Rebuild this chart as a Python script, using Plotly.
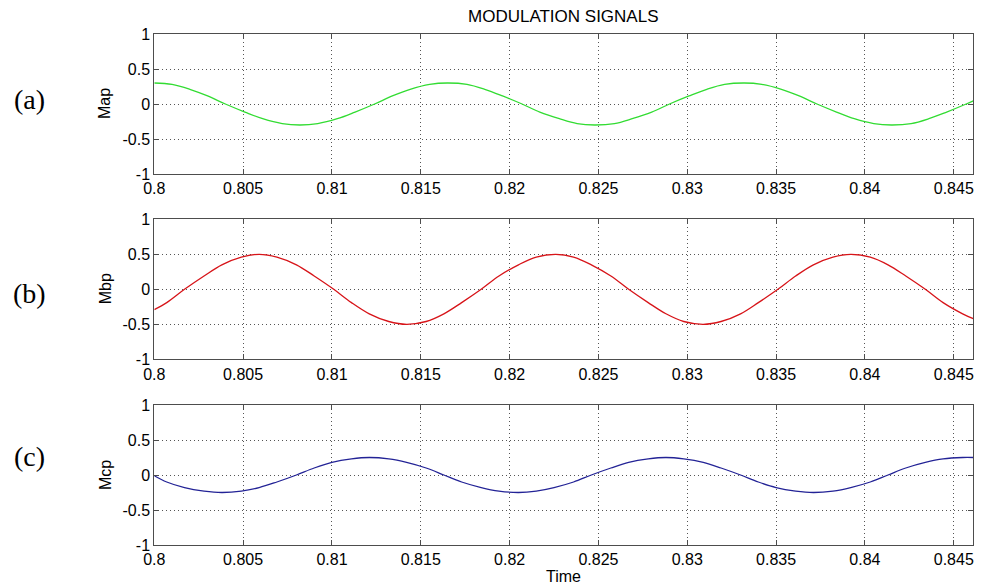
import plotly.graph_objects as go

# ---------------- data ----------------
t_a = [0.8000, 0.8010, 0.8020, 0.8030, 0.8040, 0.8051, 0.8061, 0.8072, 0.8082,
       0.8092, 0.8103, 0.8113, 0.8124, 0.8134, 0.8144, 0.8155, 0.8165, 0.8176,
       0.8186, 0.8196, 0.8207, 0.8217, 0.8228, 0.8238, 0.8248, 0.8259, 0.8269,
       0.8280, 0.8290, 0.8301, 0.8311, 0.8321, 0.8332, 0.8342, 0.8353, 0.8363,
       0.8373, 0.8384, 0.8394, 0.8405, 0.8415, 0.8426, 0.8436, 0.8446, 0.8457,
       0.8461]
map_vals = [0.30, 0.28, 0.21, 0.115, 0.00, -0.115, -0.21, -0.28, -0.30,
            -0.28, -0.21, -0.115, 0.00, 0.115, 0.21, 0.28, 0.30, 0.28,
            0.21, 0.115, 0.00, -0.115, -0.21, -0.28, -0.30, -0.28, -0.21,
            -0.115, 0.00, 0.115, 0.21, 0.28, 0.30, 0.28, 0.21, 0.115,
            0.00, -0.115, -0.21, -0.28, -0.30, -0.28, -0.21, -0.115, 0.00,
            0.045]

t_b = [0.8000, 0.8007, 0.8017, 0.8028, 0.8038, 0.8049, 0.8059, 0.8069, 0.8080,
       0.8090, 0.8101, 0.8111, 0.8121, 0.8132, 0.8142, 0.8153, 0.8163, 0.8173,
       0.8184, 0.8194, 0.8205, 0.8215, 0.8226, 0.8236, 0.8246, 0.8257, 0.8267,
       0.8278, 0.8288, 0.8298, 0.8309, 0.8319, 0.8330, 0.8340, 0.8351, 0.8361,
       0.8371, 0.8382, 0.8392, 0.8403, 0.8413, 0.8423, 0.8434, 0.8444, 0.8455,
       0.8461]
mbp_vals = [-0.29, -0.19, 0.00, 0.19, 0.35, 0.46, 0.50, 0.46, 0.35,
            0.19, 0.00, -0.19, -0.35, -0.46, -0.50, -0.46, -0.35, -0.19,
            0.00, 0.19, 0.35, 0.46, 0.50, 0.46, 0.35, 0.19, 0.00,
            -0.19, -0.35, -0.46, -0.50, -0.46, -0.35, -0.19, 0.00, 0.19,
            0.35, 0.46, 0.50, 0.46, 0.35, 0.19, 0.00, -0.19, -0.35,
            -0.42]

t_c = [0.8000, 0.8007, 0.8017, 0.8028, 0.8038, 0.8049, 0.8059, 0.8069, 0.8080,
       0.8090, 0.8100, 0.8111, 0.8121, 0.8132, 0.8142, 0.8153, 0.8163, 0.8173,
       0.8184, 0.8194, 0.8205, 0.8215, 0.8225, 0.8236, 0.8246, 0.8257, 0.8267,
       0.8278, 0.8288, 0.8298, 0.8309, 0.8319, 0.8330, 0.8340, 0.8350, 0.8361,
       0.8371, 0.8382, 0.8392, 0.8403, 0.8413, 0.8423, 0.8434, 0.8444, 0.8455,
       0.8461]
mcp_vals = [-0.01, -0.10, -0.18, -0.23, -0.25, -0.23, -0.18, -0.10, 0.00,
            0.10, 0.18, 0.23, 0.25, 0.23, 0.18, 0.10, 0.00, -0.10,
            -0.18, -0.23, -0.25, -0.23, -0.18, -0.10, 0.00, 0.10, 0.18,
            0.23, 0.25, 0.23, 0.18, 0.10, 0.00, -0.10, -0.18, -0.23,
            -0.25, -0.23, -0.18, -0.10, 0.00, 0.10, 0.18, 0.23, 0.25,
            0.25]

x_ticks = [0.8, 0.805, 0.81, 0.815, 0.82, 0.825, 0.83, 0.835, 0.84, 0.845]
x_ticktext = ["0.8", "0.805", "0.81", "0.815", "0.82", "0.825", "0.83", "0.835", "0.84", "0.845"]
y_ticks = [-1, -0.5, 0, 0.5, 1]
y_ticktext = ["-1", "-0.5", "0", "0.5", "1"]

series_names = ["Map", "Mbp", "Mcp"]
panel_labels = ["(a)", "(b)", "(c)"]
title_text = "MODULATION SIGNALS"
xlabel_text = "Time"

# ---------------- layout geometry ----------------
W, H = 982, 586
x_left, x_right = 154.3, 973.3
panels_px = [(34, 174), (219.3, 359.3), (405, 545)]
colors = ["rgb(50,220,50)", "rgb(215,20,25)", "rgb(35,35,150)"]

fig = go.Figure()
data = [(t_a, map_vals), (t_b, mbp_vals), (t_c, mcp_vals)]
for i, (tx, vy) in enumerate(data):
    sfx = "" if i == 0 else str(i + 1)
    fig.add_trace(go.Scatter(x=tx, y=vy, mode="lines",
                             line=dict(color=colors[i], width=1.3, shape="spline", smoothing=1.0),
                             xaxis="x" + sfx, yaxis="y" + sfx, showlegend=False,
                             hoverinfo="skip"))

font_tick = dict(family="Liberation Sans, Arial", size=16, color="black")
axis_common = dict(showline=True, linecolor="#4d4d4d", linewidth=1, mirror="ticks",
                   ticks="inside", ticklen=5, tickcolor="#4d4d4d", tickwidth=1,
                   showgrid=True, gridcolor="#555555", griddash="1px,3px", gridwidth=1,
                   zeroline=False, tickfont=font_tick, automargin=False)

layout = dict(width=W, height=H, margin=dict(l=0, r=0, t=0, b=0, pad=0),
              paper_bgcolor="white", plot_bgcolor="white")
annotations = []
for i, (top, bot) in enumerate(panels_px):
    sfx = "" if i == 0 else str(i + 1)
    layout["xaxis" + sfx] = dict(domain=[x_left / W, x_right / W], range=[0.8, 0.8461],
                                 tickvals=x_ticks, ticktext=x_ticktext,
                                 anchor="y" + sfx, **axis_common)
    layout["yaxis" + sfx] = dict(domain=[1 - bot / H, 1 - top / H], range=[-1, 1],
                                 tickvals=y_ticks, ticktext=y_ticktext,
                                 anchor="x" + sfx, **axis_common)
    mid = (top + bot) / 2
    annotations.append(dict(text=series_names[i], x=105 / W, y=1 - mid / H,
                            xref="paper", yref="paper", textangle=-90, showarrow=False,
                            xanchor="center", yanchor="middle",
                            font=dict(family="Liberation Sans, Arial", size=16, color="black")))

label_y = [100, 293, 457]
for i, ly in enumerate(label_y):
    annotations.append(dict(text=panel_labels[i], x=29 / W, y=1 - ly / H,
                            xref="paper", yref="paper", showarrow=False,
                            xanchor="center", yanchor="middle",
                            font=dict(family="Liberation Serif, Times New Roman", size=28, color="black")))

annotations.append(dict(text=title_text, x=563 / W, y=1 - 16.5 / H, xref="paper", yref="paper",
                        showarrow=False, xanchor="center", yanchor="middle",
                        font=dict(family="Liberation Sans, Arial", size=17, color="black")))
annotations.append(dict(text=xlabel_text, x=563 / W, y=1 - 576 / H, xref="paper", yref="paper",
                        showarrow=False, xanchor="center", yanchor="middle",
                        font=dict(family="Liberation Sans, Arial", size=16, color="black")))
layout["annotations"] = annotations
fig.update_layout(**layout)

fig.write_html("out.html")
